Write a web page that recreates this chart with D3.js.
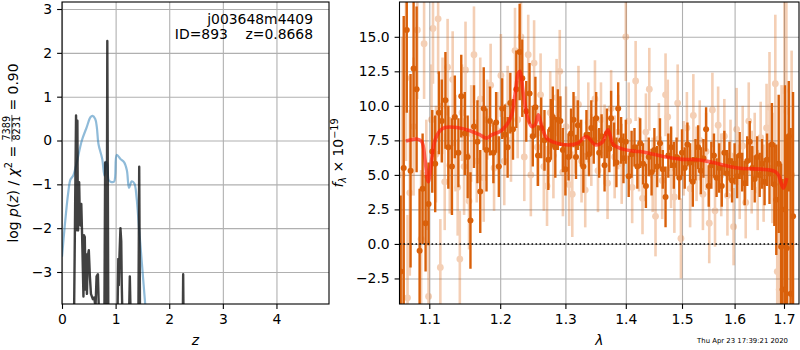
<!DOCTYPE html>
<html>
<head>
<meta charset="utf-8">
<script src="https://cdnjs.cloudflare.com/ajax/libs/d3/7.8.5/d3.min.js"></script>
<style>
  body { margin: 0; background: #fff; }
  svg { font-family: "DejaVu Sans", sans-serif; }
  .grid line { stroke: #b0b0b0; stroke-width: 1.1; }
  .grid path { display: none; }
  .axis path { display: none; }
  .axis line { stroke: #000; stroke-width: 1.1; }
  .axis text { font-size: 13.9px; fill: #000; font-family: "DejaVu Sans", sans-serif; }
</style>
</head>
<body>
<svg width="800" height="350"></svg>
<script>
// p(z) panel
var zTicks = [0, 1, 2, 3, 4];
var pzTicks = [-3, -2, -1, 0, 1, 2, 3];
var chiZ = [0, 0.05, 0.114, 0.158, 0.21, 0.27, 0.37, 0.46, 0.53, 0.57, 0.62, 0.65, 0.68, 0.75, 0.79, 0.82, 0.845, 0.87, 0.905, 0.97, 1.02, 1.09, 1.16, 1.21, 1.25, 1.30, 1.35, 1.39, 1.44, 1.49, 1.55, 1.6];
var chiVal = [-2.65, -1.97, -1.21, -0.89, -0.8, -0.53, 0, 0.3, 0.53, 0.56, 0.49, 0.3, -0.08, -0.42, -0.8, -0.48, -0.55, -0.9, -0.94, -0.94, -0.33, -0.42, -0.5, -0.68, -1.08, -0.93, -0.98, -1.29, -2.05, -2.8, -3.71, -4.5];
var pzZ = [0.20, 0.225, 0.245, 0.262, 0.272, 0.28, 0.287, 0.295, 0.30, 0.31, 0.32, 0.33, 0.345, 0.36, 0.375, 0.39, 0.40, 0.41, 0.425, 0.44, 0.455, 0.465, 0.48, 0.50, 0.52, 0.54, 0.575, 0.60, 0.625, 0.645, 0.67, 0.69, 0.75, 0.79, 0.805, 0.82, 0.835, 0.845, 0.855, 0.865, 0.95, 1.035, 1.05, 1.06, 1.07, 1.09, 1.105, 1.115, 1.13, 1.2, 1.25, 1.265, 1.28, 1.35, 1.425, 1.44, 1.455, 1.55, 2.24, 2.26, 2.28, 2.5];
var pzVal = [-6, -4.0, -1.5, 0.57, -1.0, -2.05, 0.45, -1.5, -2.05, -1.0, -0.95, -1.6, -1.94, -1.45, -2.16, -3.0, -3.56, -2.16, -2.2, -3.4, -2.6, -3.5, -2.65, -2.5, -3.1, -3.5, -3.62, -3.58, -3.8, -3.1, -3.05, -4.0, -6, -4.2, -0.5, -4.0, -3.0, 2.27, -1.0, -4.5, -6, -4.0, -2.7, -3.3, -2.7, -2.0, -2.3, -3.3, -4.2, -6, -4.0, -3.1, -4.0, -6, -4.0, -0.6, -4.0, -6, -6, -3.05, -6, -8];

// spectrum panel
var lamTicks = [1.1, 1.2, 1.3, 1.4, 1.5, 1.6, 1.7];
var fluxTicks = [-2.5, 0, 2.5, 5, 7.5, 10, 12.5, 15];

var darkWave = [
  1.062, 1.066, 1.070, 1.075, 1.079, 1.083, 1.087, 1.091, 1.095,
  1.099, 1.104, 1.108, 1.113, 1.117, 1.122, 1.126, 1.131, 1.135, 1.140,
  1.144, 1.149, 1.153, 1.157, 1.162, 1.167, 1.171, 1.176, 1.180, 1.185,
  1.190, 1.194, 1.198, 1.203, 1.207, 1.211, 1.215, 1.219, 1.224, 1.229,
  1.233, 1.239, 1.244, 1.249, 1.253, 1.257, 1.262, 1.267, 1.273, 1.277,
  1.280, 1.284, 1.288,
  1.292, 1.296, 1.300, 1.305, 1.309, 1.313, 1.317, 1.320, 1.325, 1.329,
  1.334, 1.338, 1.342, 1.346, 1.350, 1.355, 1.359, 1.364, 1.368, 1.372,
  1.375, 1.380, 1.384, 1.387, 1.392, 1.396,
  1.400, 1.405, 1.410, 1.415, 1.420, 1.425, 1.430, 1.435, 1.440, 1.445,
  1.450, 1.455, 1.460, 1.465, 1.470, 1.475, 1.480, 1.485, 1.490, 1.495,
  1.500, 1.505, 1.510, 1.515, 1.520, 1.525, 1.530, 1.535, 1.540, 1.545,
  1.550, 1.555, 1.560, 1.565, 1.570, 1.575, 1.580, 1.585, 1.590, 1.595,
  1.600, 1.605, 1.610, 1.615, 1.620, 1.625, 1.630, 1.635, 1.640, 1.645,
  1.650, 1.655, 1.660, 1.665,
  1.670, 1.675, 1.680, 1.684, 1.689, 1.694, 1.697, 1.702, 1.706, 1.710, 1.714, 1.719
];
var darkFlux = [
  -2.0, 5.5, 15.5, 5.3, 12.7, 11.2, -0.5, 4.0, 1.5,
  2.9, 6.7, 5.8, 9.5, 8.9, 10.4, 7.0, 5.6, 9.2, 6.6,
  10.7, 8.0, 6.3, 1.7, 8.5, 7.4, 3.8, 9.8, 6.8, 8.9,
  6.6, 8.8, 5.6, 9.8, 7.9, 7.0, 10.2, 8.3, 11.2, 13.9,
  12.0, 9.6, 10.9, 7.8, 9.9, 6.4, 8.4, 7.5, 6.1, 8.3,
  9.2, 7.0, 9.0,
  8.9, 6.8, 5.4, 6.3, 8.0, 9.0, 6.3, 8.6, 7.3, 5.6,
  7.9, 6.5, 8.4, 7.5, 9.1, 6.6, 7.8, 5.7, 8.0, 6.9,
  9.1, 7.2, 5.9, 9.8, 7.5, 6.2,
  7.4, 4.9, 6.5, 7.0, 5.6, 7.3, 5.8, 4.2, 6.3, 5.2,
  6.8, 5.6, 7.3, 5.4, 3.4, 6.4, 7.0, 5.7, 6.3, 4.8,
  6.6, 5.5, 7.2, 5.9, 4.5, 6.1, 7.0, 5.3, 6.2, 8.3,
  4.2, 5.7, 6.4, 4.8, 5.5, 4.2, 6.6, 5.1, 6.0, 4.6,
  5.8, 4.9, 6.4, 5.2, 4.4, 6.0, 7.4, 5.5, 4.7, 6.3,
  5.0, 5.8, 4.5, 6.1,
  5.1, 7.2, 4.3, 3.2, 5.8, -0.2, -3.3, 2.5, -0.3, 7.8, -3.6, 2.0
];
var darkErr = [
  5.5, 11, 6, 7, 5, 6, 4.5, 4, 3.5,
  3, 3, 3.5, 3, 3, 3.5, 3, 3.5, 3, 2.5,
  3, 3, 3, 3.5, 3, 3, 3, 3, 3, 2.5,
  2.2, 2.2, 2.2, 2.2, 2.2, 2.2, 2.2, 2.2, 2.8, 3.5,
  2.8, 2.2, 2.2, 2.2, 2.2, 2.2, 2.2, 2.2, 2.2, 2.2,
  2.2, 2.2, 2.2,
  1.8, 1.6, 1.9, 1.7, 1.8, 2.0, 1.6, 1.8, 1.7, 1.9,
  1.8, 1.6, 2.0, 1.7, 1.9, 1.8, 1.6, 1.9, 1.8, 1.7,
  2.0, 1.6, 1.8, 1.9, 1.7, 1.8,
  1.6, 1.5, 1.7, 1.4, 1.6, 1.8, 1.5, 1.6, 1.4, 1.7,
  1.6, 1.5, 1.8, 1.4, 2.2, 1.6, 1.5, 1.7, 1.4, 1.6,
  1.7, 1.5, 1.6, 1.4, 1.8, 1.5, 1.6, 1.7, 1.4, 1.6,
  1.5, 1.7, 1.6, 1.4, 1.8, 1.5, 1.6, 1.7, 1.4, 1.6,
  1.5, 1.6, 1.7, 1.4, 1.6, 1.8, 1.5, 1.6, 1.7, 1.5,
  1.6, 1.8, 1.7, 1.9,
  2.2, 3, 3, 4, 5, 6, 8, 9, 8, 4, 12, 9
];

var lightWave = [
  1.064, 1.069, 1.071, 1.074, 1.079, 1.084, 1.089, 1.093, 1.096, 1.099,
  1.103, 1.105, 1.109, 1.112, 1.115, 1.118, 1.121, 1.125, 1.128, 1.132,
  1.136, 1.139, 1.142, 1.145, 1.148, 1.150, 1.155, 1.158, 1.162, 1.166,
  1.171, 1.176, 1.181, 1.186, 1.191, 1.196, 1.201, 1.206, 1.211, 1.216,
  1.222, 1.226, 1.231, 1.236, 1.242, 1.246, 1.251, 1.256, 1.261, 1.266,
  1.271, 1.276, 1.281, 1.286, 1.291, 1.296, 1.301, 1.306, 1.311, 1.316,
  1.321, 1.326, 1.332, 1.337, 1.342, 1.348, 1.353, 1.358, 1.364, 1.369,
  1.375, 1.381, 1.387, 1.393, 1.400, 1.405, 1.411, 1.417, 1.423, 1.429,
  1.435, 1.441, 1.447, 1.452, 1.458, 1.464, 1.470, 1.474, 1.480, 1.486,
  1.492, 1.498, 1.503, 1.509, 1.515, 1.521, 1.527, 1.533, 1.539, 1.545,
  1.551, 1.557, 1.562, 1.568, 1.574, 1.580, 1.586, 1.592, 1.598, 1.604,
  1.610, 1.616, 1.622, 1.628, 1.634, 1.640, 1.646, 1.652, 1.658, 1.664,
  1.670, 1.676, 1.682, 1.686, 1.690, 1.695, 1.701, 1.705, 1.710, 1.716
];
var lightFlux = [
  5.0, 12.0, -3.9, 3.7, 8.5, 15.5, 0.35, 14.5, 5.0, -3.8,
  9.0, 15.6, 6.5, 16.3, -1.7, 10.0, 4.5, 12.8, 5.7, 11.9,
  7.3, 4.1, -1.1, 9.5, 5.6, 12.6, 3.1, 8.0, 13.7, 6.0,
  10.5, 4.8, 9.0, 11.5, 5.5, 8.2, 12.2, 6.0, 10.0, 7.5,
  14.0, 9.0, 15.0, 6.3, 13.7, 5.0, 13.1, 7.0, 10.8, 5.6,
  4.2, 9.5, 6.4, 10.6, 12.5, 5.2, 8.5, 4.3, 3.6, 7.9,
  10.1, 6.0, 3.9, 8.8, 6.8, 10.5, 5.3, 9.0, 7.2, 4.4,
  9.8, 6.3, 8.1, 5.8, 15.0, 8.9, 4.1, 11.8, 6.5, 3.3,
  8.1, 11.2, 5.0, 2.0, 7.6, 4.6, 10.8, 9.2, 5.5, 3.4,
  10.2, 0.4, 6.2, 8.4, 4.0, 9.3, 5.8, 7.5, 3.6, 6.7,
  1.5, 9.7, 2.4, 8.6, 5.0, 7.8, 3.5, 6.4, 1.25, 8.3,
  4.5, 7.1, 3.0, 8.9, 5.2, 6.8, 3.9, 7.7, 4.4, 8.4,
  9.9, 5.5, 11.6, -2.0, -3.3, 4.5, 11.1, 9.6, 1.0, 5.0
];
var lightErr = [
  10, 6, 6, 6, 5, 5, 5, 4, 4, 4,
  4, 4, 3.5, 4, 3.5, 3.5, 3.5, 3.5, 3.5, 3.5,
  3.5, 3.5, 3.5, 3.5, 3.5, 3.5, 3.5, 3.5, 3.5, 3,
  3, 3.2, 2.9, 3, 3.1, 2.8, 3, 3.2, 2.9, 3,
  3.1, 2.8, 3, 3.2, 2.9, 3, 3.1, 2.8, 3, 3.2,
  2.9, 3, 3.1, 2.8, 3, 3.2, 2.9, 3, 3.1, 2.8,
  2.8, 3, 2.7, 2.9, 2.6, 2.8, 3, 2.7, 2.9, 2.6,
  2.8, 3, 2.7, 2.9, 3.2, 2.8, 2.6, 2.9, 2.7, 2.6,
  2.8, 3, 2.7, 2.9, 2.6, 2.8, 3, 2.7, 2.9, 2.6,
  2.8, 2.9, 2.7, 2.6, 2.8, 3, 2.7, 2.9, 2.6, 2.8,
  2.9, 2.7, 2.6, 2.8, 3, 2.7, 2.9, 2.6, 2.8, 3,
  2.7, 2.9, 2.6, 2.8, 3, 2.7, 2.9, 2.6, 2.8, 3.2,
  4, 4, 5, 5, 6, 7, 7, 8, 8, 9
];

var modelWave = [1.069, 1.076, 1.083, 1.0898, 1.0942, 1.0986, 1.1032, 1.1077, 1.1145, 1.1214, 1.1376, 1.1563, 1.1706, 1.1803, 1.1875, 1.1997, 1.2096, 1.2171, 1.222, 1.227, 1.2295, 1.2345, 1.2406, 1.2473, 1.2524, 1.2575, 1.2628, 1.2706, 1.2862, 1.3073, 1.32, 1.3337, 1.349, 1.36, 1.3697, 1.3787, 1.392, 1.417, 1.4246, 1.466, 1.4963, 1.5335, 1.5587, 1.591, 1.6107, 1.6711, 1.6814, 1.6882, 1.6986, 1.7057];
var modelFlux = [7.45, 7.55, 7.6, 7.42, 6.1, 4.5, 6.1, 7.5, 8.2, 8.43, 8.43, 8.2, 7.9, 7.66, 7.9, 8.14, 8.62, 9.35, 10.8, 12.37, 12.5, 10.9, 9.22, 8.5, 8.62, 9.35, 8.5, 7.66, 7.3, 7.17, 7.3, 7.78, 7.17, 7.35, 8.26, 7.2, 6.9, 6.7, 6.69, 6.33, 6.14, 6.08, 5.89, 5.6, 5.48, 5.36, 5.24, 5.0, 4.03, 4.76];

var svg = d3.select("svg");
var defs = svg.append("defs");

// ---------- left panel ----------
var L = {left: 62, top: 2, width: 267, height: 302};
var gl = svg.append("g").attr("transform", "translate(" + L.left + "," + L.top + ")");
var x1 = d3.scaleLinear().domain([0, 4.98]).range([0, L.width]);
var y1 = d3.scaleLinear().domain([-3.73, 3.16]).range([L.height, 0]);
defs.append("clipPath").attr("id", "clipL").append("rect").attr("width", L.width).attr("height", L.height);

gl.append("g").attr("class", "grid").attr("transform", "translate(0," + L.height + ")")
  .call(d3.axisBottom(x1).tickValues(zTicks).tickSize(-L.height).tickFormat(""));
gl.append("g").attr("class", "grid")
  .call(d3.axisLeft(y1).tickValues(pzTicks).tickSize(-L.width).tickFormat(""));

var chi = chiZ.map(function(z, i) { return [z, chiVal[i]]; });
var pz = pzZ.map(function(z, i) { return [z, pzVal[i]]; });
var lineL = d3.line().x(function(d) { return x1(d[0]); }).y(function(d) { return y1(d[1]); });

var plotL = gl.append("g").attr("clip-path", "url(#clipL)");
plotL.append("path").datum(chi)
  .attr("d", lineL.curve(d3.curveCatmullRom))
  .attr("fill", "none").attr("stroke", "#1f77b4").attr("stroke-opacity", 0.5).attr("stroke-width", 2.2);
plotL.append("path").datum(pz)
  .attr("d", d3.line().x(function(d) { return x1(d[0]); }).y(function(d) { return y1(d[1]); }))
  .attr("fill", "none").attr("stroke", "#111").attr("stroke-opacity", 0.8).attr("stroke-width", 2.4)
  .attr("stroke-linejoin", "round");

// Set the axes
gl.append("g").attr("class", "axis").attr("transform", "translate(0," + L.height + ")")
  .call(d3.axisBottom(x1).tickValues(zTicks).tickSize(4.9).tickPadding(4.9).tickFormat(d3.format("d")));
gl.append("g").attr("class", "axis")
  .call(d3.axisLeft(y1).tickValues(pzTicks).tickSize(4.9).tickPadding(4.9).tickFormat(d3.format("d")));
gl.append("rect").attr("width", L.width).attr("height", L.height)
  .attr("fill", "none").attr("stroke", "#000").attr("stroke-width", 1.1);

gl.append("text").attr("x", 251).attr("y", 22).attr("text-anchor", "end")
  .attr("font-size", "13.9px").text("j003648m4409");
gl.append("text").attr("x", 251).attr("y", 37).attr("text-anchor", "end")
  .attr("font-size", "13.9px").attr("xml:space", "preserve").text("ID=893    z=0.8668");

svg.append("text").attr("x", L.left + L.width / 2).attr("y", 345).attr("text-anchor", "middle")
  .attr("font-size", "13.9px").attr("font-style", "italic").text("z");

// y label with the fraction
var yl = svg.append("g").attr("transform", "translate(17.5,153) rotate(-90)");
var t1 = yl.append("text").attr("font-size", "13.9px");
t1.append("tspan").text("log ");
t1.append("tspan").attr("font-style", "italic").text("p");
t1.append("tspan").text("(");
t1.append("tspan").attr("font-style", "italic").text("z");
t1.append("tspan").text(") / ");
t1.append("tspan").attr("font-style", "italic").text("χ");
t1.append("tspan").attr("font-size", "9.7px").attr("dy", -5.5).text("2");
t1.append("tspan").attr("dy", 5.5).attr("xml:space", "preserve").text(" = ");
var num = yl.append("text").attr("font-size", "9.7px").attr("text-anchor", "middle").attr("y", -8).text("7389");
var den = yl.append("text").attr("font-size", "9.7px").attr("text-anchor", "middle").attr("y", 2.5).text("8231");
var t3 = yl.append("text").attr("font-size", "13.9px").attr("xml:space", "preserve").text(" = 0.90");
var w1 = t1.node().getBBox().width;
var wf = Math.max(num.node().getBBox().width, den.node().getBBox().width) + 2;
var w3 = t3.node().getBBox().width;
var x0 = -(w1 + wf + w3) / 2;
t1.attr("x", x0);
num.attr("x", x0 + w1 + wf / 2);
den.attr("x", x0 + w1 + wf / 2);
yl.append("line").attr("x1", x0 + w1).attr("x2", x0 + w1 + wf).attr("y1", -5.6).attr("y2", -5.6)
  .attr("stroke", "#000").attr("stroke-width", 0.7);
t3.attr("x", x0 + w1 + wf);

// ---------- right panel ----------
var R = {left: 399.5, top: 2, width: 399.5, height: 302};
var gr = svg.append("g").attr("transform", "translate(" + R.left + "," + R.top + ")");
var x2 = d3.scaleLog().domain([1.0605, 1.7316]).range([0, R.width]);
var y2 = d3.scaleLinear().domain([-4.35, 17.52]).range([R.height, 0]);
defs.append("clipPath").attr("id", "clipR").append("rect").attr("width", R.width).attr("height", R.height);

gr.append("g").attr("class", "grid").attr("transform", "translate(0," + R.height + ")")
  .call(d3.axisBottom(x2).tickValues(lamTicks).tickSize(-R.height).tickFormat(""));
gr.append("g").attr("class", "grid")
  .call(d3.axisLeft(y2).tickValues(fluxTicks).tickSize(-R.width).tickFormat(""));

var orange = "#d9600a";
var light = lightWave.map(function(w, i) { return {w: w, f: lightFlux[i], e: lightErr[i]}; });
var dark = darkWave.map(function(w, i) { return {w: w, f: darkFlux[i], e: darkErr[i]}; });
var plotR = gr.append("g").attr("clip-path", "url(#clipR)");

var lg = plotR.append("g").attr("opacity", 0.3);
lg.selectAll("line").data(light).enter().append("line")
  .attr("x1", function(d) { return x2(d.w); }).attr("x2", function(d) { return x2(d.w); })
  .attr("y1", function(d) { return y2(d.f - d.e); }).attr("y2", function(d) { return y2(d.f + d.e); })
  .attr("stroke", orange).attr("stroke-width", 2.6);
lg.selectAll("circle").data(light).enter().append("circle")
  .attr("cx", function(d) { return x2(d.w); }).attr("cy", function(d) { return y2(d.f); })
  .attr("r", 3.4).attr("fill", orange);

var dg = plotR.append("g");
dg.selectAll("line").data(dark).enter().append("line")
  .attr("x1", function(d) { return x2(d.w); }).attr("x2", function(d) { return x2(d.w); })
  .attr("y1", function(d) { return y2(d.f - d.e); }).attr("y2", function(d) { return y2(d.f + d.e); })
  .attr("stroke", orange).attr("stroke-width", 2.4);
dg.selectAll("circle").data(dark).enter().append("circle")
  .attr("cx", function(d) { return x2(d.w); }).attr("cy", function(d) { return y2(d.f); })
  .attr("r", 3).attr("fill", orange);

var model = modelWave.map(function(w, i) { return [w, modelFlux[i]]; });
plotR.append("path").datum(model)
  .attr("d", d3.line().curve(d3.curveCatmullRom).x(function(d) { return x2(d[0]); }).y(function(d) { return y2(d[1]); }))
  .attr("fill", "none").attr("stroke", "#ff1a0a").attr("stroke-opacity", 0.65).attr("stroke-width", 3.6)
  .attr("stroke-linejoin", "round");

plotR.append("line").attr("x1", 0).attr("x2", R.width).attr("y1", y2(0)).attr("y2", y2(0))
  .attr("stroke", "#000").attr("stroke-width", 1.6).attr("stroke-dasharray", "1.6,2.4");

gr.append("g").attr("class", "axis").attr("transform", "translate(0," + R.height + ")")
  .call(d3.axisBottom(x2).tickValues(lamTicks).tickSize(4.9).tickPadding(4.9).tickFormat(d3.format(".1f")));
gr.append("g").attr("class", "axis")
  .call(d3.axisLeft(y2).tickValues(fluxTicks).tickSize(4.9).tickPadding(4.9).tickFormat(d3.format(".1f")));
gr.append("rect").attr("width", R.width).attr("height", R.height)
  .attr("fill", "none").attr("stroke", "#000").attr("stroke-width", 1.1);

svg.append("text").attr("x", R.left + R.width / 2).attr("y", 345).attr("text-anchor", "middle")
  .attr("font-size", "13.9px").attr("font-style", "italic").text("λ");

var yr = svg.append("text").attr("transform", "translate(343,153) rotate(-90)")
  .attr("text-anchor", "middle").attr("font-size", "13.9px");
yr.append("tspan").attr("font-style", "italic").text("f");
yr.append("tspan").attr("font-style", "italic").attr("font-size", "9.7px").attr("dy", 3).text("λ");
yr.append("tspan").attr("dy", -3).attr("xml:space", "preserve").text(" × 10");
yr.append("tspan").attr("font-size", "9.7px").attr("dy", -5.5).text("−19");

svg.append("text").attr("x", 788).attr("y", 342.5).attr("text-anchor", "end")
  .attr("font-size", "6.9px").text("Thu Apr 23 17:39:21 2020");
</script>
</body>
</html>
